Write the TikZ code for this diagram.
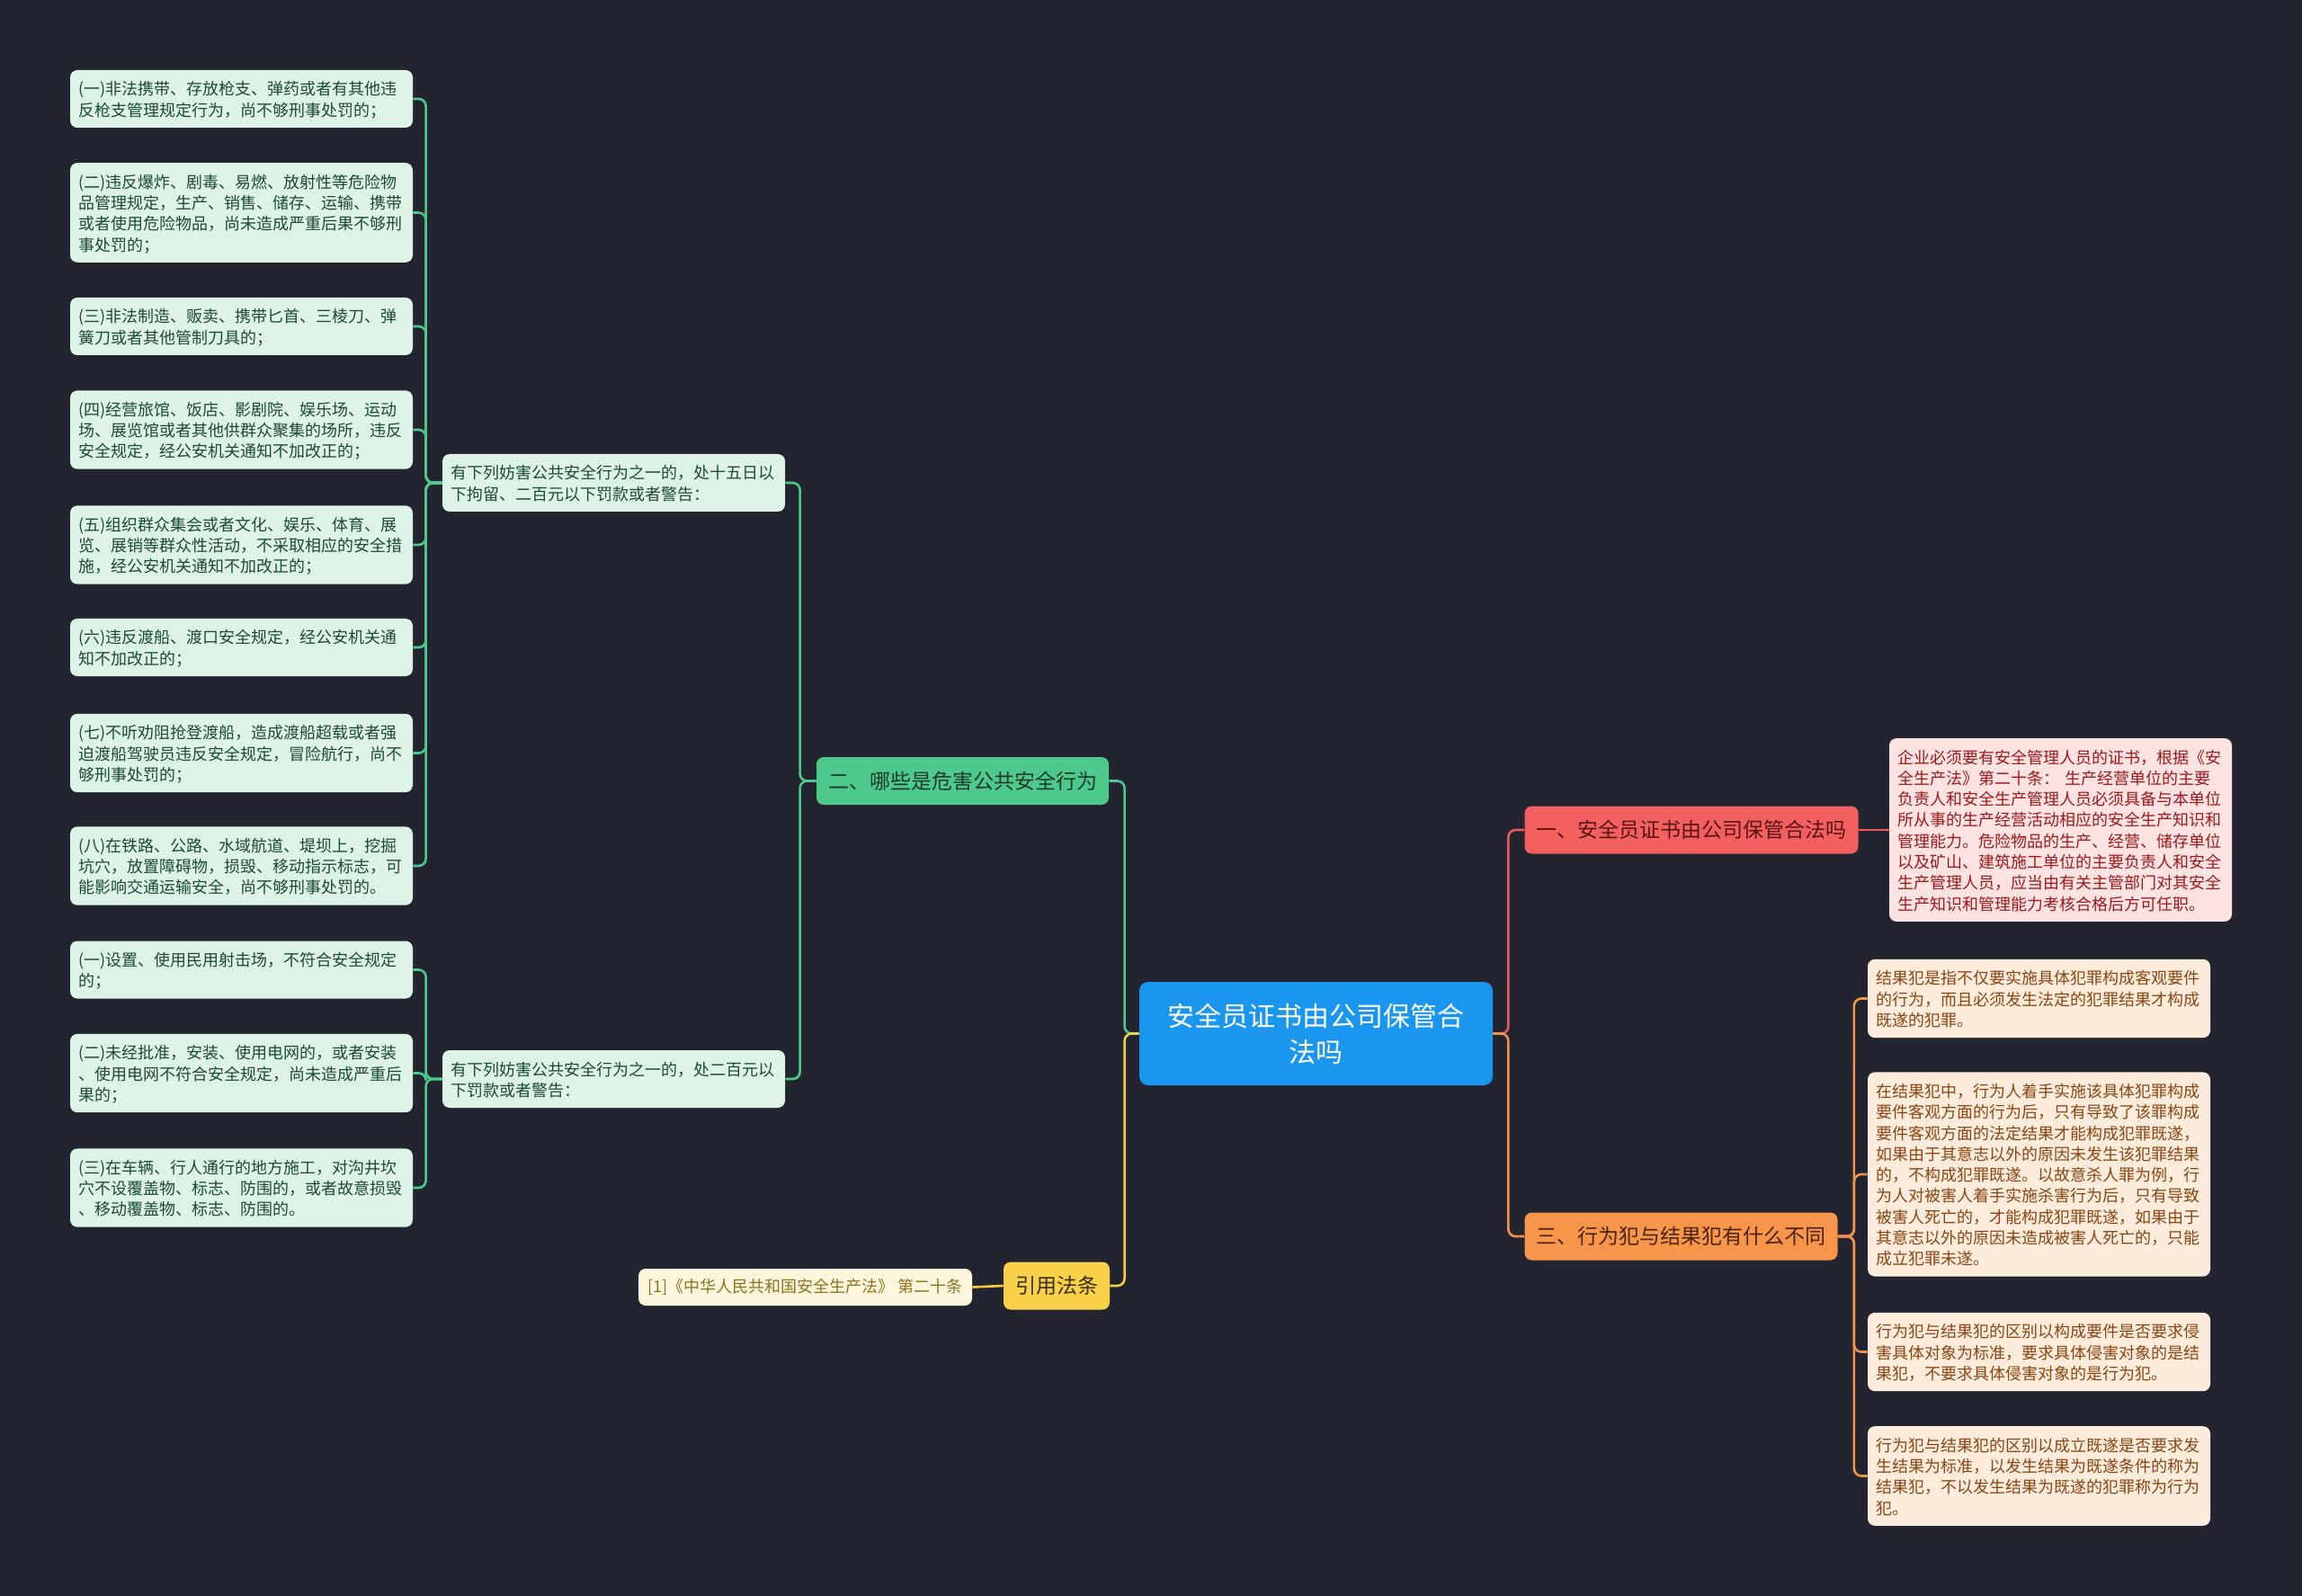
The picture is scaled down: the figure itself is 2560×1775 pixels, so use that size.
\documentclass[tikz,border=0pt]{standalone}
\usepackage{fontspec}
\setmainfont{Noto Sans CJK SC}

\definecolor{bgdark}{HTML}{22252F}
\definecolor{leaffill}{HTML}{DDF3E6}
\definecolor{leaftext}{HTML}{1F4A34}
\definecolor{greenfill}{HTML}{4CC98B}
\definecolor{greenline}{HTML}{4CC98B}
\definecolor{greentext}{HTML}{1D3A2B}
\definecolor{rootfill}{HTML}{1A96EF}
\definecolor{redfill}{HTML}{F2605F}
\definecolor{redline}{HTML}{E85B5D}
\definecolor{redtext}{HTML}{5A1212}
\definecolor{pinkfill}{HTML}{FDE2E2}
\definecolor{pinktext}{HTML}{9E1A1A}
\definecolor{orangefill}{HTML}{F7954A}
\definecolor{orangeline}{HTML}{F2934B}
\definecolor{orangetext}{HTML}{4A2408}
\definecolor{peachfill}{HTML}{FDEBDC}
\definecolor{peachtext}{HTML}{8A4612}
\definecolor{yellowfill}{HTML}{F8D049}
\definecolor{yellowline}{HTML}{F5CC45}
\definecolor{yellowtext}{HTML}{3A2E05}
\definecolor{citefill}{HTML}{FDF6DC}
\definecolor{citetext}{HTML}{8A7420}

\newcommand\cellstrut{\rule[-2pt]{0pt}{11.65pt}}

\begin{document}
\begin{tikzpicture}[x=0.5pt,y=-0.5pt,
  every node/.style={font=\fontsize{9}{11.65}\selectfont},
  leafbox/.style={rectangle,rounded corners=4pt,fill=leaffill,text=leaftext,align=left,
    text width=181pt,inner xsep=4.75pt,inner ysep=4.35pt,
    execute at begin node=\cellstrut,execute at end node=\cellstrut},
  pinkbox/.style={leafbox,fill=pinkfill,text=pinktext},
  peachbox/.style={leafbox,fill=peachfill,text=peachtext},
  branchbox/.style={rectangle,rounded corners=4pt,inner xsep=6.5pt,inner ysep=0pt,
    minimum height=26.5pt,font=\fontsize{11.5}{14}\selectfont},
  rootbox/.style={rectangle,rounded corners=5pt,fill=rootfill,text=white,align=center,
    minimum width=196.5pt,minimum height=57.5pt,font=\fontsize{15}{20}\selectfont},
  citebox/.style={rectangle,rounded corners=4pt,fill=citefill,text=citetext,
    minimum width=185.5pt,minimum height=20.5pt,inner ysep=0pt},
  greenlink/.style={draw=greenline,line width=1.3pt,rounded corners=4pt},
  redlink/.style={draw=redline,line width=1.3pt,rounded corners=4pt},
  orangelink/.style={draw=orangeline,line width=1.3pt,rounded corners=4pt},
  yellowlink/.style={draw=yellowline,line width=1.3pt,rounded corners=4pt},
]

% ---------- Background ----------
\fill[bgdark] (0,0) rectangle (2560,1775);
\useasboundingbox (0,0) rectangle (2560,1775);

% ---------- Root ----------
\node[rootbox] (ROOT) at (1463.5,1149.5) {安全员证书由公司保管合\\法吗};

% ---------- Branch nodes ----------
\node[branchbox,fill=redfill,text=redtext] (B1) at (1881,923) {一、安全员证书由公司保管合法吗};
\node[branchbox,fill=greenfill,text=greentext] (B2) at (1070.5,868.5) {二、哪些是危害公共安全行为};
\node[branchbox,fill=orangefill,text=orangetext] (B3) at (1869.5,1375) {三、行为犯与结果犯有什么不同};
\node[branchbox,fill=yellowfill,text=yellowtext] (B4) at (1175,1430) {引用法条};

% ---------- Branch 1 ----------
\node[pinkbox] (P1) at (2291.5,923) {企业必须要有安全管理人员的证书，根据《安\\全生产法》第二十条： 生产经营单位的主要\\负责人和安全生产管理人员必须具备与本单位\\所从事的生产经营活动相应的安全生产知识和\\管理能力。危险物品的生产、经营、储存单位\\以及矿山、建筑施工单位的主要负责人和安全\\生产管理人员，应当由有关主管部门对其安全\\生产知识和管理能力考核合格后方可任职。};

% ---------- Branch 2 ----------
\node[leafbox] (MA) at (682.5,537) {有下列妨害公共安全行为之一的，处十五日以\\下拘留、二百元以下罚款或者警告：};
\node[leafbox] (MB) at (682.5,1200) {有下列妨害公共安全行为之一的，处二百元以\\下罚款或者警告：};

\node[leafbox] (A1) at (268.5,110) {(一)非法携带、存放枪支、弹药或者有其他违\\反枪支管理规定行为，尚不够刑事处罚的；};
\node[leafbox] (A2) at (268.5,236.5) {(二)违反爆炸、剧毒、易燃、放射性等危险物\\品管理规定，生产、销售、储存、运输、携带\\或者使用危险物品，尚未造成严重后果不够刑\\事处罚的；};
\node[leafbox] (A3) at (268.5,363) {(三)非法制造、贩卖、携带匕首、三棱刀、弹\\簧刀或者其他管制刀具的；};
\node[leafbox] (A4) at (268.5,478) {(四)经营旅馆、饭店、影剧院、娱乐场、运动\\场、展览馆或者其他供群众聚集的场所，违反\\安全规定，经公安机关通知不加改正的；};
\node[leafbox] (A5) at (268.5,606) {(五)组织群众集会或者文化、娱乐、体育、展\\览、展销等群众性活动，不采取相应的安全措\\施，经公安机关通知不加改正的；};
\node[leafbox] (A6) at (268.5,720) {(六)违反渡船、渡口安全规定，经公安机关通\\知不加改正的；};
\node[leafbox] (A7) at (268.5,837.5) {(七)不听劝阻抢登渡船，造成渡船超载或者强\\迫渡船驾驶员违反安全规定，冒险航行，尚不\\够刑事处罚的；};
\node[leafbox] (A8) at (268.5,963) {(八)在铁路、公路、水域航道、堤坝上，挖掘\\坑穴，放置障碍物，损毁、移动指示标志，可\\能影响交通运输安全，尚不够刑事处罚的。};

\node[leafbox] (C1) at (268.5,1078.5) {(一)设置、使用民用射击场，不符合安全规定\\的；};
\node[leafbox] (C2) at (268.5,1193.5) {(二)未经批准，安装、使用电网的，或者安装\\、使用电网不符合安全规定，尚未造成严重后\\果的；};
\node[leafbox] (C3) at (268.5,1321) {(三)在车辆、行人通行的地方施工，对沟井坎\\穴不设覆盖物、标志、防围的，或者故意损毁\\、移动覆盖物、标志、防围的。};

% ---------- Branch 3 ----------
\node[peachbox] (R1) at (2267.5,1110.5) {结果犯是指不仅要实施具体犯罪构成客观要件\\的行为，而且必须发生法定的犯罪结果才构成\\既遂的犯罪。};
\node[peachbox] (R2) at (2267.5,1306) {在结果犯中，行为人着手实施该具体犯罪构成\\要件客观方面的行为后，只有导致了该罪构成\\要件客观方面的法定结果才能构成犯罪既遂，\\如果由于其意志以外的原因未发生该犯罪结果\\的，不构成犯罪既遂。以故意杀人罪为例，行\\为人对被害人着手实施杀害行为后，只有导致\\被害人死亡的，才能构成犯罪既遂，如果由于\\其意志以外的原因未造成被害人死亡的，只能\\成立犯罪未遂。};
\node[peachbox] (R3) at (2267.5,1503.5) {行为犯与结果犯的区别以构成要件是否要求侵\\害具体对象为标准，要求具体侵害对象的是结\\果犯，不要求具体侵害对象的是行为犯。};
\node[peachbox] (R4) at (2267.5,1641.5) {行为犯与结果犯的区别以成立既遂是否要求发\\生结果为标准，以发生结果为既遂条件的称为\\结果犯，不以发生结果为既遂的犯罪称为行为\\犯。};

% ---------- Branch 4 ----------
\node[citebox] (CITE) at (895.5,1431.5) {[1]《中华人民共和国安全生产法》 第二十条};

% ---------- Root links ----------
\draw[redlink] (ROOT.east) -- ++(17,0) |- (B1.west);
\draw[orangelink] (ROOT.east) -- ++(17,0) |- (B3.west);
\draw[greenlink] (ROOT.west) -- ++(-16,0) |- (B2.east);
\draw[yellowlink] (ROOT.west) -- ++(-16,0) |- (B4.east);

% ---------- Branch links ----------
\draw[redlink] (B1.east) -- (P1.west);
\foreach \r in {R1,R2,R3,R4}
  \draw[orangelink] (B3.east) -- ++(18,0) |- (\r.west);
\foreach \m in {MA,MB}
  \draw[greenlink] (B2.west) -- ++(-18,0) |- (\m.east);
\foreach \a in {A1,A2,A3,A4,A5,A6,A7,A8}
  \draw[greenlink] (MA.west) -- ++(-18,0) |- (\a.east);
\foreach \c in {C1,C2,C3}
  \draw[greenlink] (MB.west) -- ++(-18,0) |- (\c.east);
\draw[yellowlink] (B4.west) -- (CITE.east);

\end{tikzpicture}
\end{document}
